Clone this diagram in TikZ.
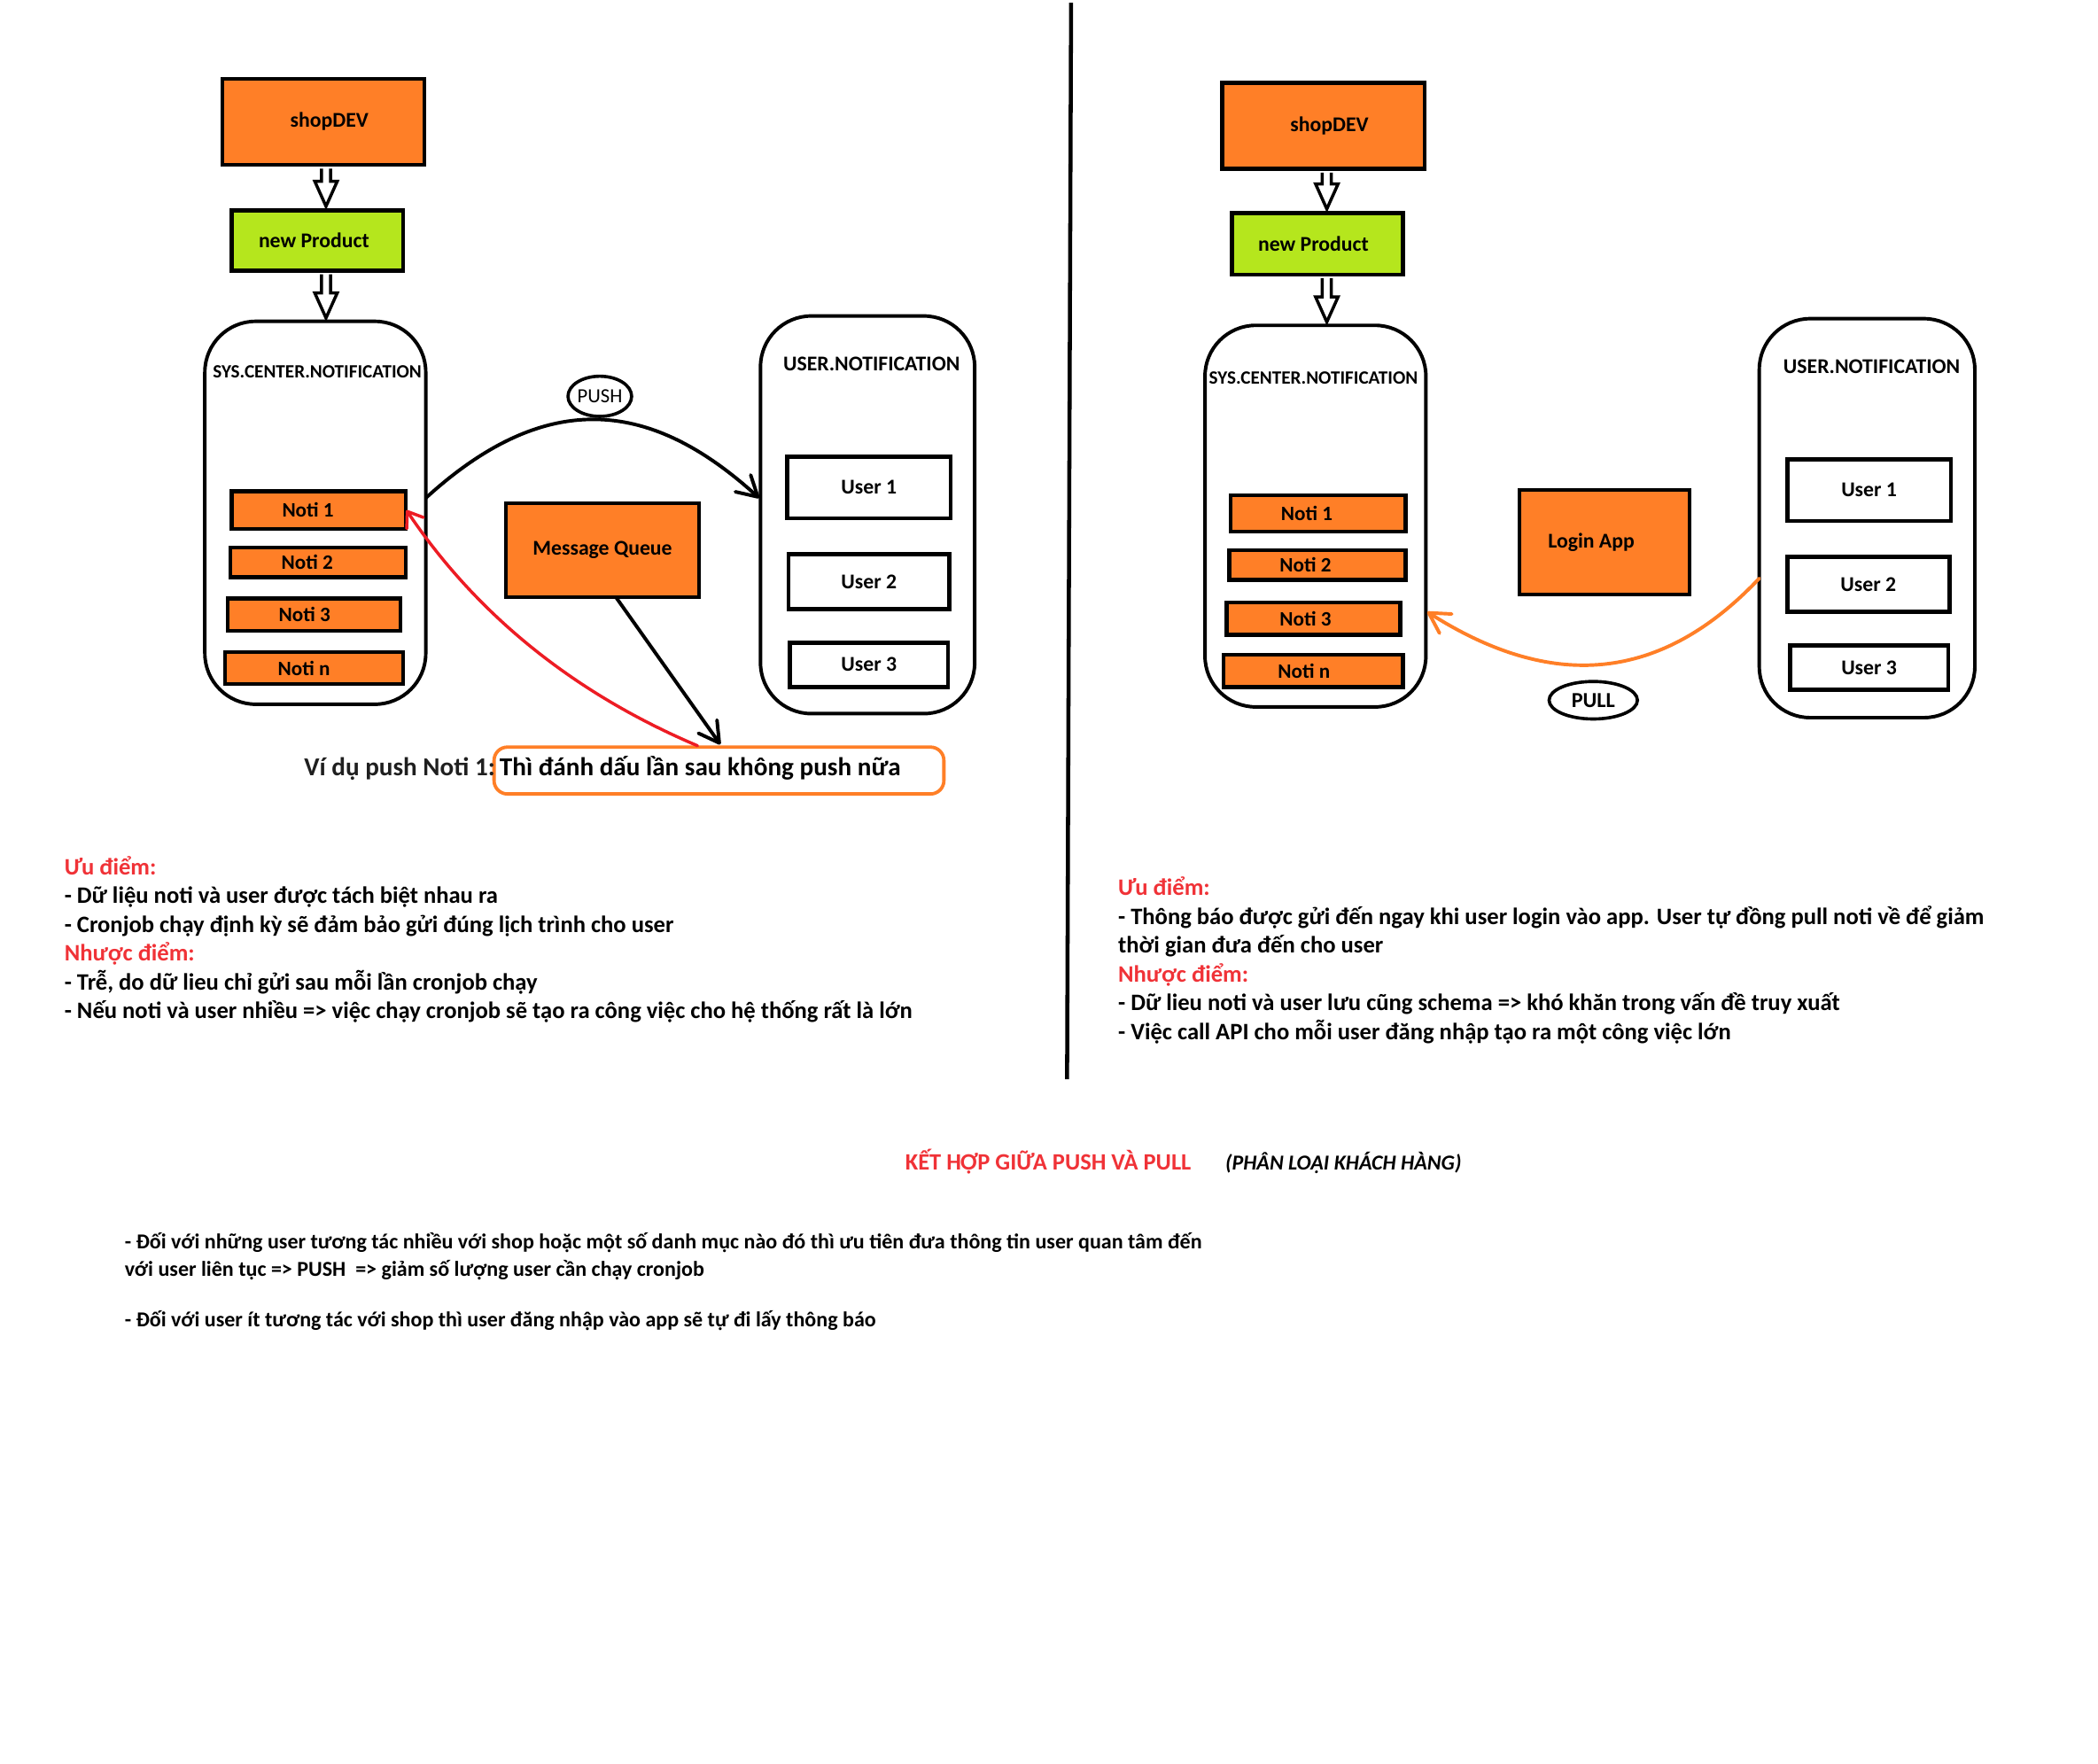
\documentclass[tikz,border=0pt]{standalone}
\usepackage{fontspec}
\setmainfont{Carlito}
\usetikzlibrary{arrows.meta,shapes.geometric}
\definecolor{porange}{RGB}{255,127,39}
\definecolor{plime}{RGB}{181,230,29}
\definecolor{pred}{RGB}{237,28,36}
\definecolor{tred}{RGB}{240,50,55}
\begin{document}
\begin{tikzpicture}[x=1pt,y=-1pt,
  box/.style={draw=black, line width=3pt, inner sep=0pt, font=\bfseries\fontsize{15.7}{18}\selectfont},
  obox/.style={box, fill=porange},
  gbox/.style={box, fill=plime},
  wbox/.style={box, fill=white},
  notibox/.style={obox, font=\bfseries\fontsize{15.3}{17}\selectfont, text depth=0pt},
  cont/.style={draw=black, line width=2.6pt, rounded corners=38pt, inner sep=0pt},
  ctitle/.style={font=\bfseries\fontsize{15.7}{18}\selectfont, inner sep=0pt},
  hollow/.style={draw=black, fill=white, line width=2.3pt, line join=miter,
    to path={([xshift=-3.4pt]\tikztostart) -- ([xshift=-3.4pt,yshift=18.7pt]\tikztotarget)
      -- ([xshift=-8.4pt,yshift=18.7pt]\tikztotarget) -- (\tikztotarget)
      -- ([xshift=8.4pt,yshift=18.7pt]\tikztotarget) -- ([xshift=3.4pt,yshift=18.7pt]\tikztotarget)
      -- ([xshift=3.4pt]\tikztostart)}},
  barb/.style={line width=2.6pt, line cap=round, -{Straight Barb[length=15pt,width=17pt,line width=2.6pt,round]}},
  oval/.style={draw=black, ellipse, line width=2.4pt, inner sep=0pt},
  para/.style={anchor=base west, inner sep=0pt, font=\bfseries\fontsize{17.6}{20}\selectfont},
  rpara/.style={para, text=tred},
  small/.style={anchor=base west, inner sep=0pt, font=\bfseries\fontsize{15.9}{18}\selectfont},
]
\useasboundingbox (0,0) rectangle (1567,1317);
\fill[white] (0,0) rectangle (1567,1317);

% ---------------- LEFT (PUSH) ----------------
\node[obox, minimum width=151pt, minimum height=64pt] (shopA) at (241.5,91) {\hspace*{9pt}shopDEV};
\node[gbox, minimum width=128pt, minimum height=45pt] (npA) at (237,179.5) {new Product\hspace*{5pt}};
\node[cont, minimum width=165pt, minimum height=286pt] (sysA) at (235.5,383) {};
\node[ctitle, font=\bfseries\fontsize{14}{16}\selectfont] (sysAt) at (237,278) {SYS.CENTER.NOTIFICATION};
\node[notibox, minimum width=130pt, minimum height=28pt] (nA1) at (238,381) {Noti 1\hspace*{16pt}};
\node[notibox, minimum width=131pt, minimum height=22pt] (nA2) at (237.5,420) {Noti 2\hspace*{16pt}};
\node[notibox, minimum width=129pt, minimum height=24pt] (nA3) at (234.5,459) {Noti 3\hspace*{14pt}};
\node[notibox, minimum width=133pt, minimum height=24pt] (nAn) at (234.5,499) {Noti n\hspace*{15pt}};

\coordinate (aA1s) at ([xshift=2pt,yshift=-1.4pt]shopA.south);
\coordinate (aA1e) at ([yshift=1.4pt]aA1s |- npA.north);
\coordinate (aA2s) at ([yshift=-1.4pt]aA1s |- npA.south);
\coordinate (aA2e) at ([yshift=1.2pt]aA1s |- sysA.north);
\draw[hollow] (aA1s) to (aA1e);
\draw[hollow] (aA2s) to (aA2e);

\node[cont, minimum width=160pt, minimum height=297pt] (usrA) at (648,384.5) {};
\node[ctitle] (usrAt) at (651,272) {USER.NOTIFICATION};
\node[wbox, minimum width=122pt, minimum height=46pt] (uA1) at (649,364) {User 1};
\node[wbox, minimum width=120pt, minimum height=41pt] (uA2) at (649,434.5) {User 2};
\node[wbox, minimum width=118pt, minimum height=33pt] (uA3) at (649,496.5) {User 3};

\node[oval, minimum width=46pt, minimum height=30pt, font=\fontsize{15}{17}\selectfont] (push) at (448,296) {PUSH};
\coordinate (pushS) at (318,372);
\coordinate (pushE) at (567,372);
\draw[barb] (pushS) .. controls (410,288) and (488,300) .. (pushE);

\node[obox, minimum width=144pt, minimum height=70pt] (mq) at (450,411) {Message Queue};

\node[draw=porange, line width=2.5pt, rounded corners=10pt, minimum width=336pt, minimum height=35pt, inner sep=0pt] (note) at (537,575.5) {};
\node[anchor=base west, inner sep=0pt, font=\bfseries\fontsize{19.3}{22}\selectfont] (noteT) at (373,579.5) {Thì đánh dấu lần sau không push nữa};
\node[anchor=base east, inner sep=0pt, font=\bfseries\fontsize{19.3}{22}\selectfont, text=black!88] (noteL) at (370,579.5) {Ví dụ push Noti 1:};

\coordinate (mqS) at (460,446);
\coordinate (mqEnd) at (538,556);
\draw[barb] (mqS) -- (mqEnd);
\coordinate (redS) at (521,557);
\draw[pred, line width=2.3pt, line cap=round, -{Straight Barb[length=10.5pt,width=15pt,line width=2.3pt,round]}] (redS) .. controls (415,512) and (348,447) .. ([xshift=-1pt]nA1.east);

% divider
\coordinate (divT) at (800,2);
\coordinate (divB) at (797,806);
\draw[line width=3pt] (divT) -- (divB);

% ---------------- RIGHT (PULL) ----------------
\node[obox, minimum width=151pt, minimum height=64pt] (shopB) at (988.5,94) {\hspace*{9pt}shopDEV};
\node[gbox, minimum width=128pt, minimum height=46pt] (npB) at (984,182) {new Product\hspace*{6pt}};
\node[cont, minimum width=165pt, minimum height=285pt] (sysB) at (982.5,385.5) {};
\node[ctitle, font=\bfseries\fontsize{14}{16}\selectfont] (sysBt) at (981,282) {SYS.CENTER.NOTIFICATION};
\node[notibox, minimum width=131pt, minimum height=27pt] (nB1) at (984.5,383.5) {Noti 1\hspace*{17pt}};
\node[notibox, minimum width=132pt, minimum height=22pt] (nB2) at (984,422) {Noti 2\hspace*{18pt}};
\node[notibox, minimum width=130pt, minimum height=24pt] (nB3) at (981,462) {Noti 3\hspace*{12pt}};
\node[notibox, minimum width=134pt, minimum height=24pt] (nBn) at (981,501) {Noti n\hspace*{14pt}};

\coordinate (aB1s) at ([xshift=2.5pt,yshift=-1.4pt]shopB.south);
\coordinate (aB1e) at ([yshift=1.4pt]aB1s |- npB.north);
\coordinate (aB2s) at ([yshift=-1.4pt]aB1s |- npB.south);
\coordinate (aB2e) at ([yshift=1.2pt]aB1s |- sysB.north);
\draw[hollow] (aB1s) to (aB1e);
\draw[hollow] (aB2s) to (aB2e);

\node[obox, minimum width=127pt, minimum height=78pt] (login) at (1198.5,405) {Login App\hspace*{20pt}};

\node[cont, minimum width=161pt, minimum height=298pt] (usrB) at (1394.5,387) {};
\node[ctitle] (usrBt) at (1398,274) {USER.NOTIFICATION};
\node[wbox, minimum width=122pt, minimum height=46pt] (uB1) at (1396,366) {User 1};
\node[wbox, minimum width=121pt, minimum height=41pt] (uB2) at (1395.5,436.5) {User 2};
\node[wbox, minimum width=118pt, minimum height=33pt] (uB3) at (1396,498.5) {User 3};

\node[oval, minimum width=66pt, minimum height=28pt, font=\bfseries\fontsize{16}{18}\selectfont] (pull) at (1190,523) {PULL};
\coordinate (pullS) at (1314,432);
\coordinate (pullE) at (1066,457);
\draw[porange, line width=2.6pt, line cap=round, -{Straight Barb[length=15pt,width=17pt,line width=2.6pt,round]}] (pullS) .. controls (1245,505) and (1165,520) .. (pullE);

% ---------------- TEXT BLOCKS ----------------
\node[rpara] (l1) at (48,653.4) {Ưu điểm:};
\node[para] (l2) at (48,674.4) {- Dữ liệu noti và user được tách biệt nhau ra};
\node[para] (l3) at (48,696.4) {- Cronjob chạy định kỳ sẽ đảm bảo gửi đúng lịch trình cho user};
\node[rpara] (l4) at (48,717.4) {Nhược điểm:};
\node[para] (l5) at (48,739.4) {- Trễ, do dữ lieu chỉ gửi sau mỗi lần cronjob chạy};
\node[para] (l6) at (48,760.4) {- Nếu noti và user nhiều => việc chạy cronjob sẽ tạo ra công việc cho hệ thống rất là lớn};

\node[rpara] (r1) at (835,668.4) {Ưu điểm:};
\node[para] (r2) at (835,690.4) {- Thông báo được gửi đến ngay khi user login vào app. User tự đồng pull noti về để giảm};
\node[para] (r3) at (835,711.4) {thời gian đưa đến cho user};
\node[rpara] (r4) at (835,733.4) {Nhược điểm:};
\node[para] (r5) at (835,754.4) {- Dữ lieu noti và user lưu cũng schema => khó khăn trong vấn đề truy xuất};
\node[para] (r6) at (835,776.4) {- Việc call API cho mỗi user đăng nhập tạo ra một công việc lớn};

\node[anchor=base west, inner sep=0pt, text=tred, font=\bfseries\fontsize{17.5}{20}\selectfont] (k1) at (676,873.5) {KẾT HỢP GIỮA PUSH VÀ PULL};
\node[anchor=base west, inner sep=0pt, font=\bfseries\itshape\fontsize{15.9}{18}\selectfont] (k2) at (915,873.5) {(PHÂN LOẠI KHÁCH HÀNG)};

\node[small] (b1) at (93,933) {- Đối với những user tương tác nhiều với shop hoặc một số danh mục nào đó thì ưu tiên đưa thông tin user quan tâm đến};
\node[small] (b2) at (93,953) {với user liên tục => PUSH \ => giảm số lượng user cần chạy cronjob};
\node[small] (b3) at (93,991) {- Đối với user ít tương tác với shop thì user đăng nhập vào app sẽ tự đi lấy thông báo};
\end{tikzpicture}
\end{document}
